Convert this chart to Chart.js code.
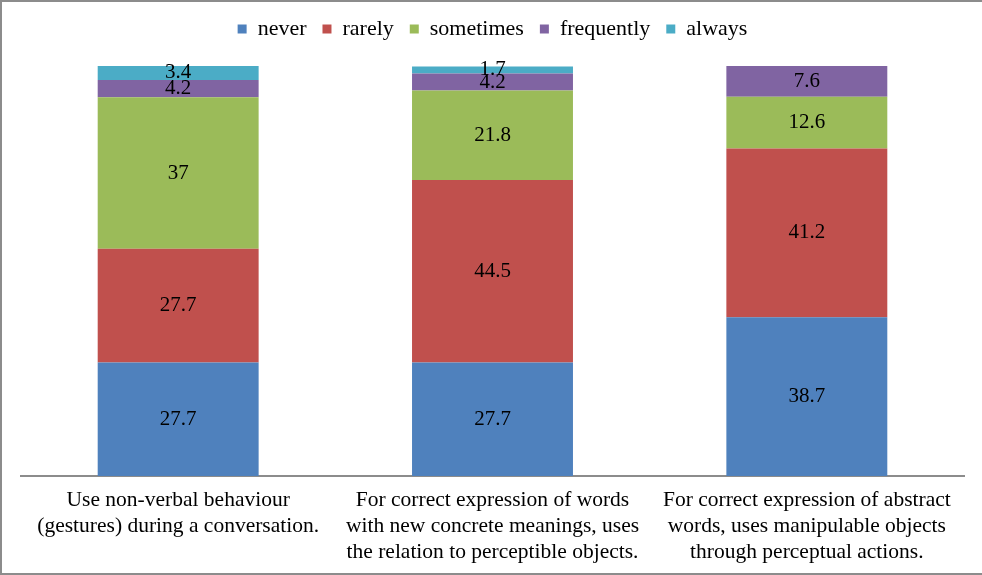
<!DOCTYPE html>
<html>
<head>
<meta charset="utf-8">
<script src="https://cdn.jsdelivr.net/npm/chart.js@4/dist/chart.umd.min.js"></script>
<style>
  html, body { margin: 0; padding: 0; background: #fff; }
  #wrap { position: relative; width: 982px; height: 575px; box-sizing: border-box;
          border-left: 2px solid #8c8c8c; border-top: 2px solid #8c8c8c; border-bottom: 2px solid #8c8c8c; }
</style>
</head>
<body>
<div id="wrap"><canvas id="c" width="980" height="571"></canvas></div>
<script>
const categories = [
  ['Use non-verbal behaviour', '(gestures) during a conversation.'],
  ['For correct expression of words', 'with new concrete meanings, uses', 'the relation to perceptible objects.'],
  ['For correct expression of abstract', 'words, uses manipulable objects', 'through perceptual actions.']
]
const never = [27.7, 27.7, 38.7]
const rarely = [27.7, 44.5, 41.2]
const sometimes = [37, 21.8, 12.6]
const frequently = [4.2, 4.2, 7.6]
const always = [3.4, 1.7, 0]

const serif = '"Liberation Serif", "Times New Roman", serif'

// values written in the middle of each segment
const valueLabels = {
  id: 'valueLabels',
  afterDatasetsDraw(chart) {
    const ctx = chart.ctx
    ctx.save()
    ctx.font = '21px ' + serif
    ctx.fillStyle = '#000'
    ctx.textAlign = 'center'
    ctx.textBaseline = 'middle'
    chart.data.datasets.forEach((ds, i) => {
      chart.getDatasetMeta(i).data.forEach((bar, j) => {
        const v = ds.data[j]
        if (!v) return
        ctx.fillText(String(v), bar.x, (bar.y + bar.base) / 2)
      })
    })
    ctx.restore()
  }
}

// a bit more room between legend and bars
const legendGap = {
  id: 'legendGap',
  afterInit(chart) {
    const lg = chart.legend
    const fit = lg.fit.bind(lg)
    lg.fit = function () { fit(); this.height += 16 }
  }
}

new Chart(document.getElementById('c'), {
  type: 'bar',
  data: {
    labels: categories,
    datasets: [
      { label: 'never', data: never, backgroundColor: '#4F81BD' },
      { label: 'rarely', data: rarely, backgroundColor: '#C0504D' },
      { label: 'sometimes', data: sometimes, backgroundColor: '#9BBB59' },
      { label: 'frequently', data: frequently, backgroundColor: '#8064A2' },
      { label: 'always', data: always, backgroundColor: '#4BACC6' }
    ]
  },
  options: {
    responsive: false,
    animation: false,
    categoryPercentage: 1,
    barPercentage: 0.512,
    layout: { padding: { left: 19, right: 18, top: 0, bottom: -3 } },
    plugins: {
      tooltip: { enabled: false },
      legend: {
        position: 'top',
        labels: {
          font: { family: serif, size: 22 },
          color: '#000',
          boxWidth: 9,
          boxHeight: 9,
          padding: 16
        }
      }
    },
    scales: {
      x: {
        stacked: true,
        grid: { display: false, drawTicks: false },
        border: { display: true, color: '#8c8c8c', width: 2 },
        ticks: {
          color: '#000',
          font: { family: serif, size: 21.5, lineHeight: 1.21 },
          padding: 11,
          maxRotation: 0,
          autoSkip: false
        }
      },
      y: {
        stacked: true,
        display: false,
        min: 0,
        max: 100
      }
    }
  },
  plugins: [valueLabels, legendGap]
})
</script>
</body>
</html>
